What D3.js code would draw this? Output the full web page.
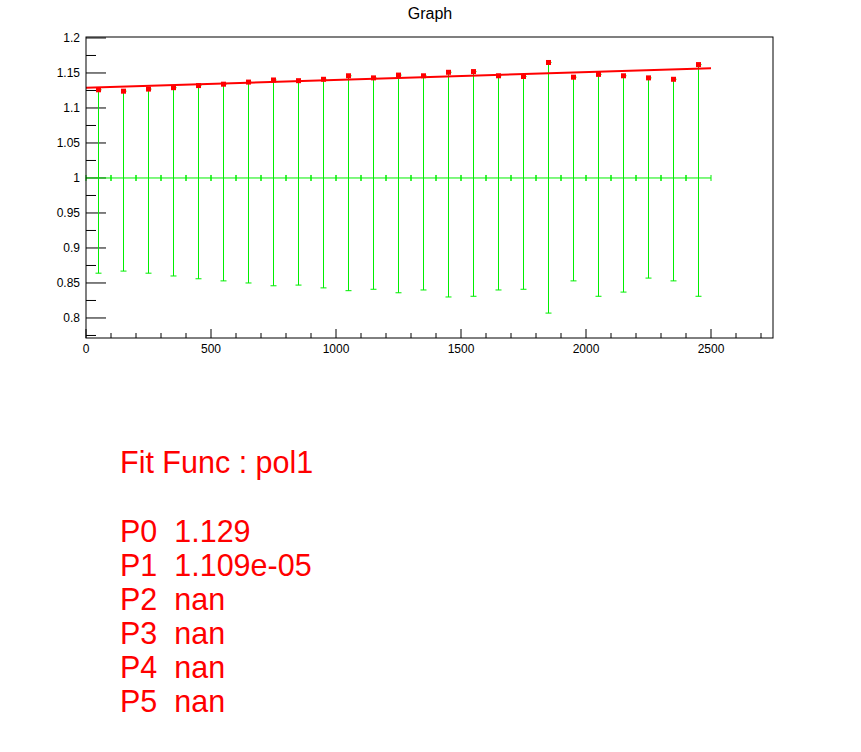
<!DOCTYPE html>
<html><head><meta charset="utf-8">
<script src="https://cdn.jsdelivr.net/npm/d3@7"></script>
<style>body{margin:0;background:#fff}text{font-family:"Liberation Sans",Arial,sans-serif}</style>
</head><body><div id="chart"></div>
<script>
let xs = [50,150,250,350,450,550,650,750,850,950,1050,1150,1250,1350,1450,1550,1650,1750,1850,1950,2050,2150,2250,2350,2450];
let redY = [1.126,1.124,1.127,1.129,1.132,1.134,1.137,1.140,1.139,1.141,1.146,1.143,1.147,1.146,1.151,1.152,1.146,1.145,1.165,1.144,1.148,1.146,1.143,1.141,1.162];
let lowY = [0.864,0.867,0.864,0.860,0.856,0.853,0.850,0.846,0.847,0.843,0.839,0.841,0.836,0.840,0.830,0.831,0.840,0.841,0.807,0.853,0.831,0.837,0.857,0.853,0.831];
let p0 = 1.129, p1 = 1.109e-05;
let yTicks = [0.8,0.85,0.9,0.95,1,1.05,1.1,1.15,1.2];
let xTicks = [0,500,1000,1500,2000,2500];
let statLines = ["P0  1.129","P1  1.109e-05","P2  nan","P3  nan","P4  nan","P5  nan"];

let svg = d3.select('#chart').append('svg').attr('width',861).attr('height',752);
let L=86,R=773,T=37,B=338;
let x = d3.scaleLinear().domain([0,2748]).range([L,R]);
let y = d3.scaleLinear().domain([0.7714,1.2014]).range([B,T]);

svg.append('text').attr('x',430).attr('y',19).attr('text-anchor','middle').attr('font-size',16).text('Graph');

// axes ticks (inside)
let g = svg.append('g');
d3.range(0.775,1.2001,0.025).forEach(function(v){
  let major = Math.abs(v*20-Math.round(v*20))<1e-6;
  g.append('line').attr('x1',L).attr('x2',L+(major?20:10)).attr('y1',y(v)).attr('y2',y(v)).attr('stroke','#000');
});
d3.range(0,2748,100).forEach(function(v){
  let major = v%500==0;
  g.append('line').attr('x1',x(v)).attr('x2',x(v)).attr('y1',B).attr('y2',B-(major?9:5)).attr('stroke','#000');
});
yTicks.forEach(function(v){
  g.append('text').attr('x',L-6).attr('y',y(v)+4).attr('text-anchor','end').attr('font-size',12).text(v);
});
xTicks.forEach(function(v){
  g.append('text').attr('x',x(v)).attr('y',B+15).attr('text-anchor','middle').attr('font-size',12).text(v);
});

// green graph
let gr = svg.append('g').attr('stroke','#00ee00').attr('stroke-width',1);
gr.append('line').attr('x1',x(0)).attr('x2',x(2500)).attr('y1',y(1)).attr('y2',y(1));
xs.forEach(function(v,i){
  gr.append('line').attr('x1',x(v-50)).attr('x2',x(v-50)).attr('y1',y(1)-3).attr('y2',y(1)+3);
  gr.append('line').attr('x1',x(v+50)).attr('x2',x(v+50)).attr('y1',y(1)-3).attr('y2',y(1)+3);
  gr.append('line').attr('x1',x(v)).attr('x2',x(v)).attr('y1',y(redY[i])).attr('y2',y(lowY[i]));
  gr.append('line').attr('x1',x(v)-3).attr('x2',x(v)+3).attr('y1',y(lowY[i])).attr('y2',y(lowY[i]));
  gr.append('line').attr('x1',x(v)).attr('x2',x(v)+3).attr('y1',y(redY[i])).attr('y2',y(redY[i]));
});

// fit
svg.append('line').attr('x1',x(0)).attr('x2',x(2500)).attr('y1',y(p0)).attr('y2',y(p0+p1*2500))
  .attr('stroke','#ff0000').attr('stroke-width',2);
svg.selectAll('rect.pt').data(xs).enter().append('rect').attr('class','pt')
  .attr('x',function(d){return x(d)-2.5}).attr('y',function(d,i){return y(redY[i])-2.5})
  .attr('width',5).attr('height',5).attr('fill','#ff0000');

svg.append('rect').attr('x',L).attr('y',T).attr('width',R-L).attr('height',B-T).attr('fill','none').attr('stroke','#000');

// stats text
let st = svg.append('g').attr('fill','#ff0000').attr('font-size',30.5);
st.append('text').attr('x',120).attr('y',473).text('Fit Func : pol1');
statLines.forEach(function(s,i){
  st.append('text').attr('x',120).attr('y',542+i*34).attr('xml:space','preserve').style('white-space','pre').text(s);
});
</script></body></html>
